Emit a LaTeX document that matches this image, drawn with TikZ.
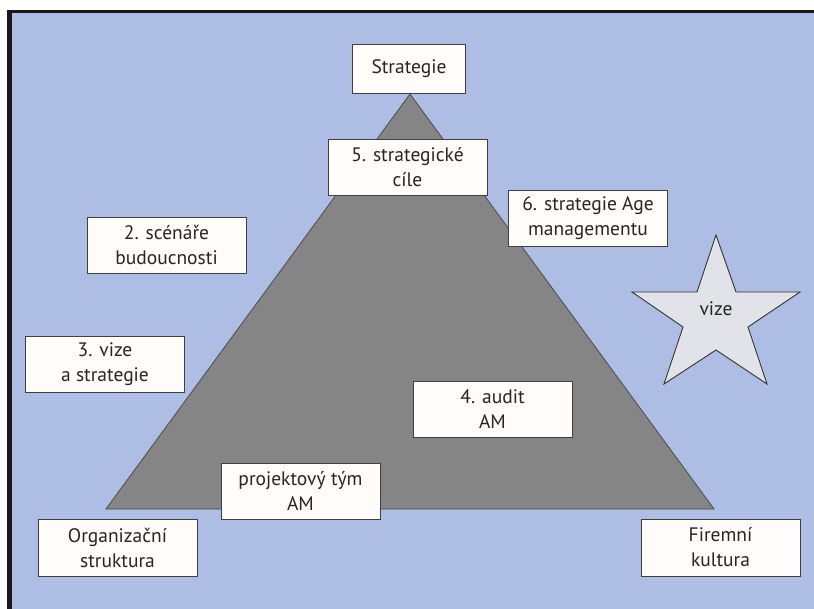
\documentclass[tikz,border=0pt]{standalone}
\usepackage{fontspec}
\setmainfont{PT Sans}
\definecolor{bgblue}{HTML}{AEBDE3}
\definecolor{tri}{HTML}{858585}
\definecolor{boxfill}{HTML}{FFFCF9}
\definecolor{txt}{HTML}{262626}
\definecolor{starfill}{HTML}{E2E3E8}
\tikzset{
  infobox/.style={draw=black!75, line width=0.9pt, fill=boxfill, text=txt,
    minimum width=159pt, minimum height=56pt, inner sep=0pt, align=center,
    font=\fontsize{19.5}{25}\selectfont},
}
\begin{document}
\begin{tikzpicture}[x=1pt,y=-1pt]
\useasboundingbox (0,0) rectangle (814,609);
\fill[white] (0,0) rectangle (814,609);
\fill[black!90] (7,10) rectangle (814,609);
\fill[bgblue] (11.5,13.5) rectangle (814,609);
% pyramid
\draw[fill=tri, draw=black!70, line width=0.8pt] (410,94) -- (714,509) -- (106,509) -- cycle;
% boxes
\node[infobox, minimum width=113pt, minimum height=49pt] (strat) at (409,68.5) {Strategie};
\node[infobox] (cile) at (407.5,167) {5. strategické\\cíle};
\node[infobox] (age) at (588,218) {6. strategie Age\\managementu};
\node[infobox] (scen) at (166.5,245) {2. scénáře\\budoucnosti};
\node[infobox] (vizs) at (105,364) {3. vize\\a strategie};
\node[infobox] (audit) at (492.5,409) {4. audit\\AM};
\node[infobox] (tym) at (300.5,491) {projektový tým\\AM};
\node[infobox, minimum height=57pt] (org) at (117.5,547.5) {Organizační\\struktura};
\node[infobox, minimum height=57pt] (kult) at (720.5,547.5) {Firemní\\kultura};
% star
\draw[fill=starfill, draw=black!80, line width=0.9pt]
  (716,235) -- (736,292) -- (800,292) -- (748,327) -- (767,384) -- (716,350)
  -- (664,384) -- (683,327) -- (632,292) -- (697,292) -- cycle;
\node[text=txt, font=\fontsize{19.5}{25}\selectfont] (vize) at (716,309) {vize};
\end{tikzpicture}
\end{document}
